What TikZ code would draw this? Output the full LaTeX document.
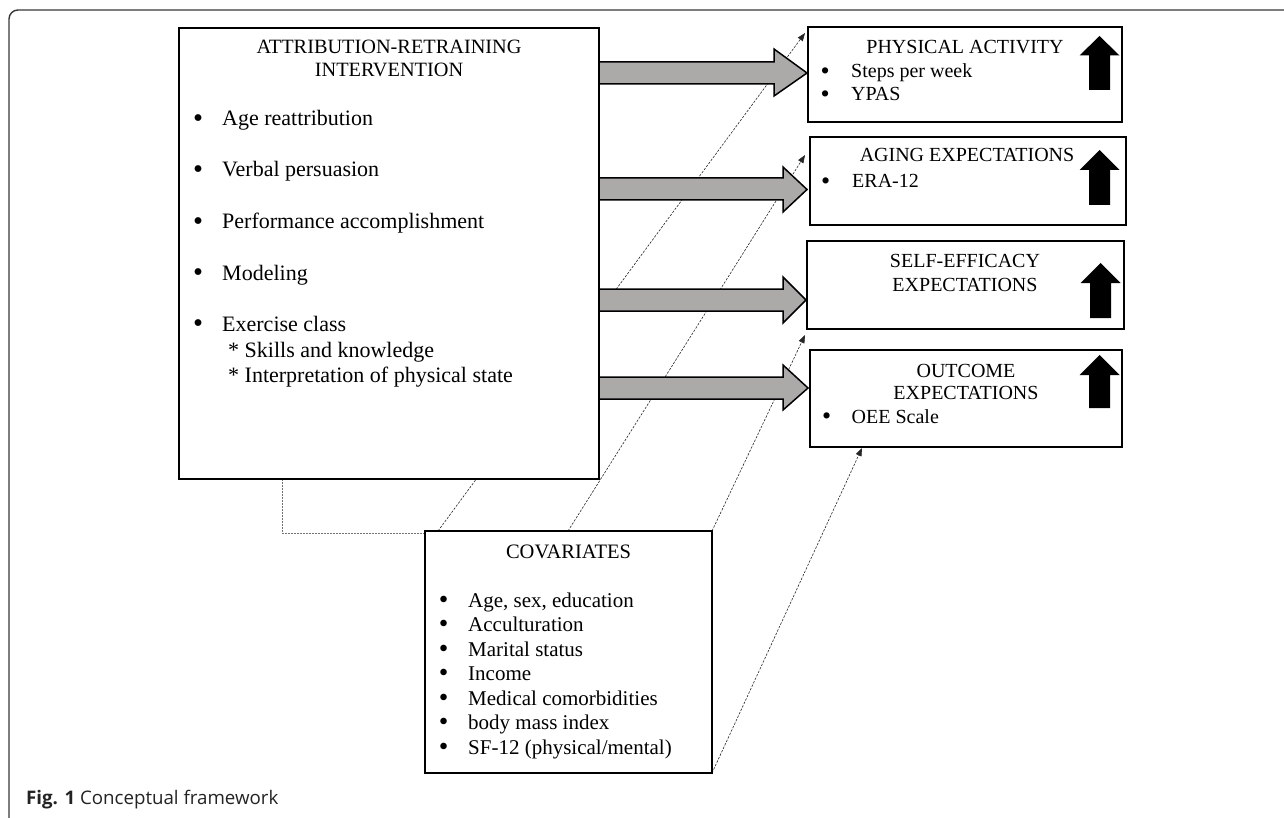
\documentclass[tikz,border=0pt]{standalone}
\usepackage{fontspec}
\setmainfont{Liberation Serif}
\newfontfamily\capfont{Open Sans}
\usetikzlibrary{arrows.meta}
\definecolor{arrowgray}{RGB}{172,169,169}
\definecolor{framegray}{RGB}{55,55,55}
\definecolor{capgray}{RGB}{35,35,35}
\newcommand{\mybul}[1]{\makebox[#1][l]{\smash{\raisebox{-1.8pt}{\scalebox{1.3}{\textbullet}}}}}
\begin{document}
\begin{tikzpicture}[x=1pt,y=-1pt,
  box/.style={draw=black, line width=1.6pt, fill=white, inner sep=0pt, outer sep=0pt, anchor=north west},
  blockarrow/.style={draw=black, line width=1.5pt, fill=arrowgray, line join=miter},
  uparrow/.style={fill=black, draw=none},
  depline/.style={draw=black!85, line width=0.6pt, dash pattern=on 2.4pt off 1.4pt, -{Triangle[length=8pt,width=6pt]}},
  linkline/.style={draw=black!55, line width=1pt, dash pattern=on 2pt off 1pt},
  mtitle/.style={font=\fontsize{20.3}{23}\selectfont, inner sep=0pt, anchor=base},
  mitem/.style={font=\fontsize{22}{26}\selectfont, inner sep=0pt, anchor=base west},
  rtitle/.style={font=\fontsize{20}{23}\selectfont, inner sep=0pt, anchor=base},
  ritem/.style={font=\fontsize{20}{23}\selectfont, inner sep=0pt, anchor=base west},
  ctitle/.style={font=\fontsize{20.5}{24}\selectfont, inner sep=0pt, anchor=base},
  citem/.style={font=\fontsize{21}{24}\selectfont, inner sep=0pt, anchor=base west}
]
\useasboundingbox (0,0) rectangle (1284,818);
% outer frame
\draw[framegray, line width=1.4pt, rounded corners=9pt] (9,818) -- (9,10) -- (1284,10);

% connector end points
\coordinate (l1s) at (438,531);
\coordinate (l1e) at (805,33);
\coordinate (l2s) at (568,531);
\coordinate (l2e) at (805,155);
\coordinate (l3s) at (712,531);
\coordinate (l3e) at (805,335);
\coordinate (l4s) at (712,773);
\coordinate (l4e) at (862,448);
\coordinate (k1) at (425,533);
\coordinate (k2) at (282,533);
\coordinate (k3) at (282,479);

% dashed dependency lines (behind boxes)
\draw[depline] (l1s) -- (l1e);
\draw[depline] (l2s) -- (l2e);
\draw[depline] (l3s) -- (l3e);
\draw[depline] (l4s) -- (l4e);
\draw[linkline] (k1) -- (k2) -- (k3);

% main box
\node[box, minimum width=420pt, minimum height=451pt] (main) at (179,28) {};
\node[mtitle] (mt1) at (389,54) {ATTRIBUTION-RETRAINING};
\node[mtitle] (mt2) at (389,77) {INTERVENTION};
\node[mitem] (m1) at (193,126) {\mybul{29pt}Age reattribution};
\node[mitem] (m2) at (193,177) {\mybul{29pt}Verbal persuasion};
\node[mitem] (m3) at (193,229) {\mybul{29pt}Performance accomplishment};
\node[mitem] (m4) at (193,280) {\mybul{29pt}Modeling};
\node[mitem] (m5) at (193,331) {\mybul{29pt}Exercise class};
\node[mitem] (m6) at (228,357) {* Skills and knowledge};
\node[mitem] (m7) at (228,382) {* Interpretation of physical state};

% gray block arrows
\draw[blockarrow] (599,62) -- (774,62) -- (774,49) -- (807,73) -- (774,96) -- (774,84) -- (599,84) -- cycle;
\draw[blockarrow] (599,178) -- (783,178) -- (783,167) -- (807,189.5) -- (783,212) -- (783,200) -- (599,200) -- cycle;
\draw[blockarrow] (599,289) -- (783,289) -- (783,277) -- (806,300) -- (783,323) -- (783,311) -- (599,311) -- cycle;
\draw[blockarrow] (599,377) -- (783,377) -- (783,365) -- (808,388) -- (783,410) -- (783,399) -- (599,399) -- cycle;

% right boxes
\node[box, minimum width=314pt, minimum height=95pt] (pa) at (808,27) {};
\node[rtitle] (pat) at (965,54) {PHYSICAL ACTIVITY};
\node[ritem] (pa1) at (820.5,78) {\mybul{30.5pt}Steps per week};
\node[ritem] (pa2) at (820.5,101) {\mybul{30.5pt}YPAS};

\node[box, minimum width=316pt, minimum height=88pt] (ae) at (810,137) {};
\node[rtitle] (aet) at (967,162) {AGING EXPECTATIONS};
\node[ritem] (ae1) at (821,188) {\mybul{31pt}ERA-12};

\node[box, minimum width=317pt, minimum height=88pt] (se) at (807,241) {};
\node[rtitle] (set1) at (965,268) {SELF-EFFICACY};
\node[rtitle] (set2) at (965,291) {EXPECTATIONS};

\node[box, minimum width=312pt, minimum height=97pt] (oe) at (810,350) {};
\node[rtitle] (oet1) at (966,377) {OUTCOME};
\node[rtitle] (oet2) at (966,399) {EXPECTATIONS};
\node[ritem] (oe1) at (822,423) {\mybul{29.5pt}OEE Scale};

% black up arrows
\fill[uparrow] (1099.5,36) -- (1119.5,55.5) -- (1110,55.5) -- (1110,90) -- (1089,90) -- (1089,55.5) -- (1079.5,55.5) -- cycle;
\fill[uparrow] (1099.5,150) -- (1119.5,170) -- (1110,170) -- (1110,205) -- (1089,205) -- (1089,170) -- (1079.5,170) -- cycle;
\fill[uparrow] (1100.5,263) -- (1120.5,283) -- (1111,283) -- (1111,318) -- (1090,318) -- (1090,283) -- (1080.5,283) -- cycle;
\fill[uparrow] (1099.5,355) -- (1119.5,375) -- (1110,375) -- (1110,408) -- (1089,408) -- (1089,375) -- (1079.5,375) -- cycle;

% covariates
\node[box, minimum width=287pt, minimum height=242pt] (cov) at (425,531) {};
\node[ctitle] (covt) at (568.5,558) {COVARIATES};
\node[citem] (c1) at (438.7,607) {\mybul{29.3pt}Age, sex, education};
\node[citem] (c2) at (438.7,631) {\mybul{29.3pt}Acculturation};
\node[citem] (c3) at (438.7,656) {\mybul{29.3pt}Marital status};
\node[citem] (c4) at (438.7,680) {\mybul{29.3pt}Income};
\node[citem] (c5) at (438.7,705) {\mybul{29.3pt}Medical comorbidities};
\node[citem] (c6) at (438.7,729) {\mybul{29.3pt}body mass index};
\node[citem] (c7) at (438.7,754) {\mybul{29.3pt}SF-12 (physical/mental)};

% caption
\node[inner sep=0pt, anchor=base west, text=capgray, font=\capfont\fontsize{18.7}{22}\selectfont] (cap) at (26,804) {\textbf{Fig. 1} Conceptual framework};
\end{tikzpicture}
\end{document}
